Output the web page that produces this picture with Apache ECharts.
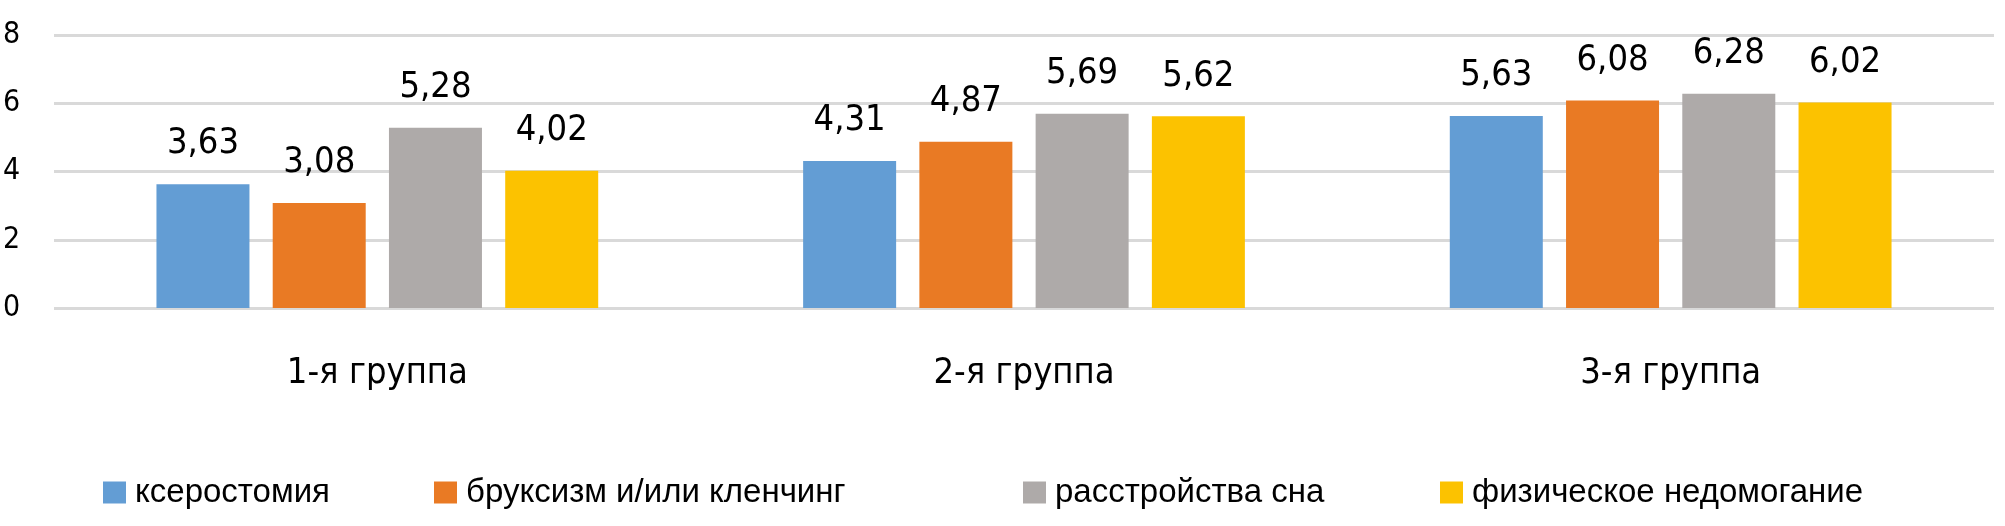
<!DOCTYPE html>
<html>
<head>
<meta charset="utf-8">
<script src="https://cdn.jsdelivr.net/npm/echarts@6/dist/echarts.min.js"></script>
<style>
html,body{margin:0;padding:0;background:#fff;}
#chart{width:2005px;height:526px;}
</style>
</head>
<body>
<div id="chart"></div>
<script>
const categories = ['1-я группа', '2-я группа', '3-я группа'];
const seriesNames = ['ксеростомия', 'бруксизм и/или кленчинг', 'расстройства сна', 'физическое недомогание'];
const xerostomia = [3.63, 4.31, 5.63];
const bruxism = [3.08, 4.87, 6.08];
const sleepDisorders = [5.28, 5.69, 6.28];
const malaise = [4.02, 5.62, 6.02];
const yTicks = [0, 2, 4, 6, 8];

const colors = ['#639dd4', '#e97a24', '#aeaaa9', '#fcc200'];
const values = [xerostomia, bruxism, sleepDisorders, malaise];
const narrow = "'DejaVu Sans Condensed', 'Liberation Sans Narrow', sans-serif";
const legendLeft = [103, 434, 1023, 1440];

const chart = echarts.init(document.getElementById('chart'));
chart.setOption({
  animation: false,
  backgroundColor: '#fff',
  grid: { left: 52, right: 11, top: 35, bottom: 218 },
  legend: seriesNames.map((n, i) => ({
    data: [n],
    left: legendLeft[i],
    top: 476,
    padding: 0,
    itemWidth: 23,
    itemHeight: 22,
    icon: 'rect',
    textStyle: { fontFamily: "'Liberation Sans', sans-serif", fontSize: 33, color: '#000', padding: [0, 0, 0, 4] }
  })),
  xAxis: {
    type: 'category',
    data: categories,
    axisLine: { show: false },
    axisTick: { show: false },
    axisLabel: { fontFamily: narrow, fontSize: 36, color: '#000', margin: 48 }
  },
  yAxis: {
    type: 'value',
    min: yTicks[0],
    max: yTicks[yTicks.length - 1],
    interval: 2,
    axisLine: { show: false },
    axisTick: { show: false },
    splitLine: { lineStyle: { color: '#d9d9d9', width: 3 } },
    axisLabel: { fontFamily: narrow, fontSize: 30, color: '#000', align: 'left', margin: 51 }
  },
  series: seriesNames.map((n, i) => ({
    name: n,
    type: 'bar',
    data: values[i],
    barWidth: 93,
    barGap: '25%',
    itemStyle: { color: colors[i] },
    label: {
      show: true,
      position: 'top',
      distance: 22,
      fontFamily: narrow,
      fontSize: 36,
      color: '#000',
      formatter: p => p.value.toFixed(2).replace('.', ',')
    }
  }))
});
</script>
</body>
</html>
